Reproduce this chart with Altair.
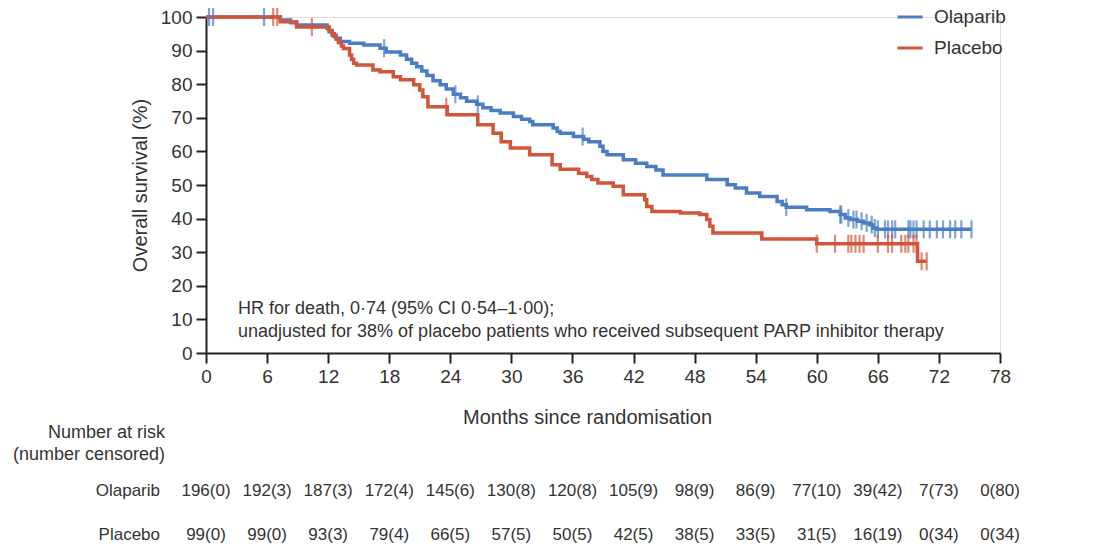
import altair as alt
import pandas as pd

FONT = "Liberation Sans"
TXT = "#333333"
BLUE = "#4A7DC4"
RED = "#D0553A"

# ---- Kaplan-Meier step points (months, % surviving) ----
ola_t = [0, 7.3, 8.3, 8.9, 11.9, 12.1, 12.4, 12.8, 13.2, 14.1, 15.5, 17.1, 17.7, 19.1, 19.7,
         20.2, 20.7, 21.2, 21.7, 22.3, 23.0, 23.6, 24.3, 25.0, 25.6, 26.6, 27.2, 28.0, 28.9,
         30.2, 31.0, 31.8, 32.1, 34.1, 34.5, 34.8, 36.1, 37.1, 37.6, 38.7, 39.0, 39.4, 41.0,
         42.2, 43.3, 44.2, 44.9, 49.2, 51.2, 52.0, 53.1, 54.4, 56.1, 56.6, 57.0, 59.0, 61.3,
         62.3, 62.8, 63.3, 64.0, 64.6, 65.2, 65.5, 65.9, 75.2]
ola_s = [100, 99.1, 98.3, 97.6, 96.6, 95.6, 94.6, 93.7, 92.7, 92.2, 91.7, 90.7, 89.6, 88.7, 87.4,
         86.2, 85.2, 83.9, 82.6, 81.0, 79.8, 78.6, 77.0, 76.0, 74.9, 74.0, 73.0, 72.2, 71.4,
         70.4, 69.6, 68.9, 67.9, 67.0, 65.9, 65.4, 64.4, 63.6, 62.9, 61.5, 60.0, 59.0, 57.5,
         56.5, 55.5, 54.5, 53.0, 51.6, 50.1, 49.1, 47.6, 46.6, 45.1, 44.1, 43.4, 42.6, 42.1,
         41.2, 40.2, 39.7, 39.2, 38.7, 38.2, 37.2, 36.8, 36.8]

pla_t = [0, 7.3, 8.9, 12.1, 12.4, 12.6, 12.8, 13.0, 13.3, 13.5, 14.1, 14.3, 14.5, 14.8, 16.4,
         17.1, 18.4, 19.1, 20.4, 21.0, 21.3, 21.8, 23.7, 26.7, 28.2, 29.0, 29.9, 31.8, 34.0,
         34.8, 36.6, 37.4, 37.9, 38.5, 40.0, 41.0, 43.1, 43.3, 43.8, 46.6, 48.5, 49.2, 49.5,
         49.8, 54.6, 60.0, 69.9, 70.8]
pla_s = [100, 98.6, 97.0, 96.0, 95.0, 94.2, 93.4, 92.4, 91.4, 90.6, 88.7, 87.4, 86.2, 85.7, 84.2,
         83.7, 82.2, 81.3, 79.8, 78.3, 76.3, 73.3, 70.9, 67.9, 65.4, 62.9, 61.0, 59.0, 56.0,
         54.7, 53.5, 52.5, 51.6, 50.6, 49.6, 47.1, 45.6, 43.6, 42.1, 41.7, 41.2, 39.7, 37.7,
         35.7, 33.9, 32.5, 27.3, 27.3]

# censoring times (months)
ola_cens = [0.3, 0.7, 5.7, 17.5, 24.5, 26.7, 37.0, 57.0, 62.3, 62.4, 63.1, 63.6, 63.9, 64.4,
            64.9, 65.4, 65.7, 66.0, 66.7, 67.0, 67.4, 67.7, 69.0, 69.2, 69.5, 69.8, 70.5, 71.1,
            71.8, 72.4, 73.1, 73.6, 74.2, 75.2]
pla_cens = [6.6, 7.0, 10.4, 23.6, 60.0, 61.8, 63.1, 63.4, 63.8, 64.2, 64.6, 66.0, 67.0, 67.4,
            68.3, 68.7, 69.0, 69.5, 69.8, 70.3, 70.8]

# ---- numbers at risk ----
risk_months = [0, 6, 12, 18, 24, 30, 36, 42, 48, 54, 60, 66, 72, 78]
ola_risk = ["196(0)", "192(3)", "187(3)", "172(4)", "145(6)", "130(8)", "120(8)", "105(9)",
            "98(9)", "86(9)", "77(10)", "39(42)", "7(73)", "0(80)"]
pla_risk = ["99(0)", "99(0)", "93(3)", "79(4)", "66(5)", "57(5)", "50(5)", "42(5)",
            "38(5)", "33(5)", "31(5)", "16(19)", "0(34)", "0(34)"]

groups = ["Olaparib", "Placebo"]
x_ticks = list(range(0, 79, 6))
y_ticks = list(range(0, 101, 10))
note_lines = ["HR for death, 0·74 (95% CI 0·54–1·00);",
              "unadjusted for 38% of placebo patients who received subsequent PARP inhibitor therapy"]
header_lines = ["Number at risk", "(number censored)"]


def surv_at(ts, ss, t):
    v = ss[0]
    for ti, si in zip(ts, ss):
        if ti <= t:
            v = si
    return v


curve = pd.DataFrame(
    [{"group": "Olaparib", "t": t, "s": s} for t, s in zip(ola_t, ola_s)]
    + [{"group": "Placebo", "t": t, "s": s} for t, s in zip(pla_t, pla_s)]
)
cens = pd.DataFrame(
    [{"group": "Olaparib", "t": t, "s": surv_at(ola_t, ola_s, t)} for t in ola_cens]
    + [{"group": "Placebo", "t": t, "s": surv_at(pla_t, pla_s, t)} for t in pla_cens]
)

xscale = alt.Scale(domain=[0, 78], nice=False, zero=False)
yscale = alt.Scale(domain=[0, 100], nice=False)
cscale = alt.Scale(domain=groups, range=[BLUE, RED])

x_axis = alt.Axis(values=x_ticks, title="Months since randomisation", grid=False,
                  domainColor="#222222", domainWidth=2, tickColor="#222222", tickWidth=2,
                  tickSize=10, labelFontSize=19, labelColor=TXT, labelFont=FONT,
                  labelPadding=4, titleFontSize=20, titleFont=FONT, titleColor=TXT,
                  titleFontWeight="normal", titleX=381, titleY=64, titleBaseline="middle",
                  labelFlush=False, labelOverlap=False)
y_axis = alt.Axis(values=y_ticks, title="Overall survival (%)", grid=False,
                  domainColor="#222222", domainWidth=2, tickColor="#222222", tickWidth=2,
                  tickSize=10, labelFontSize=19, labelColor=TXT, labelFont=FONT,
                  labelPadding=4, titleFontSize=20, titleFont=FONT, titleColor=TXT,
                  titleFontWeight="normal", titleX=-66, titleY=168, titleAngle=-90,
                  titleBaseline="middle", titleAlign="center", labelFlush=False,
                  labelOverlap=False, tickCount=11)

lines = alt.Chart(curve).mark_line(interpolate="step-after", strokeWidth=3.5).encode(
    x=alt.X("t:Q", scale=xscale, axis=x_axis),
    y=alt.Y("s:Q", scale=yscale, axis=y_axis),
    color=alt.Color("group:N", scale=cscale, sort=groups,
                    legend=alt.Legend(orient="none", legendX=690, legendY=-14, title=None,
                                      labelFontSize=19, labelFont=FONT, labelColor=TXT,
                                      symbolType="stroke", symbolStrokeWidth=3,
                                      symbolSize=625, rowPadding=7, labelOffset=10)),
    detail="group:N",
)

ticks = alt.Chart(cens).mark_tick(orient="vertical", thickness=2.2, size=18).encode(
    x=alt.X("t:Q", scale=xscale),
    y=alt.Y("s:Q", scale=yscale),
    color=alt.Color("group:N", scale=cscale, legend=None),
)


def text_row(text, x_px, y_px, align, size):
    return alt.Chart(pd.DataFrame({"txt": [text]})).mark_text(
        align=align, baseline="middle", fontSize=size, font=FONT, color=TXT
    ).encode(x=alt.value(x_px), y=alt.value(y_px), text="txt:N")


note_layers = [text_row(note_lines[0], 32, 292, "left", 18),
               text_row(note_lines[1], 32, 315, "left", 18)]
hdr_layers = [text_row(header_lines[0], -41, 416, "right", 18),
              text_row(header_lines[1], -41, 438, "right", 18)]
row_layers = [text_row(groups[0], -46, 474, "right", 17),
              text_row(groups[1], -46, 518, "right", 17)]

risk_ola = pd.DataFrame({"m": risk_months, "lab": ola_risk})
risk_pla = pd.DataFrame({"m": risk_months, "lab": pla_risk})


def risk_row(df, y_px):
    return alt.Chart(df).mark_text(align="center", baseline="middle", fontSize=17,
                                   font=FONT, color=TXT).encode(
        x=alt.X("m:Q", scale=xscale), y=alt.value(y_px), text="lab:N")


chart = alt.layer(
    lines, ticks, *note_layers, *hdr_layers, *row_layers,
    risk_row(risk_ola, 474), risk_row(risk_pla, 518),
).properties(
    width=794, height=336,
    autosize=alt.AutoSizeParams(type="none"),
    padding={"left": 206, "top": 17, "right": 101, "bottom": 197},
).configure_view(stroke=None).configure(background="white")

chart.save("out.html", embed_options={"renderer": "svg", "actions": False})
